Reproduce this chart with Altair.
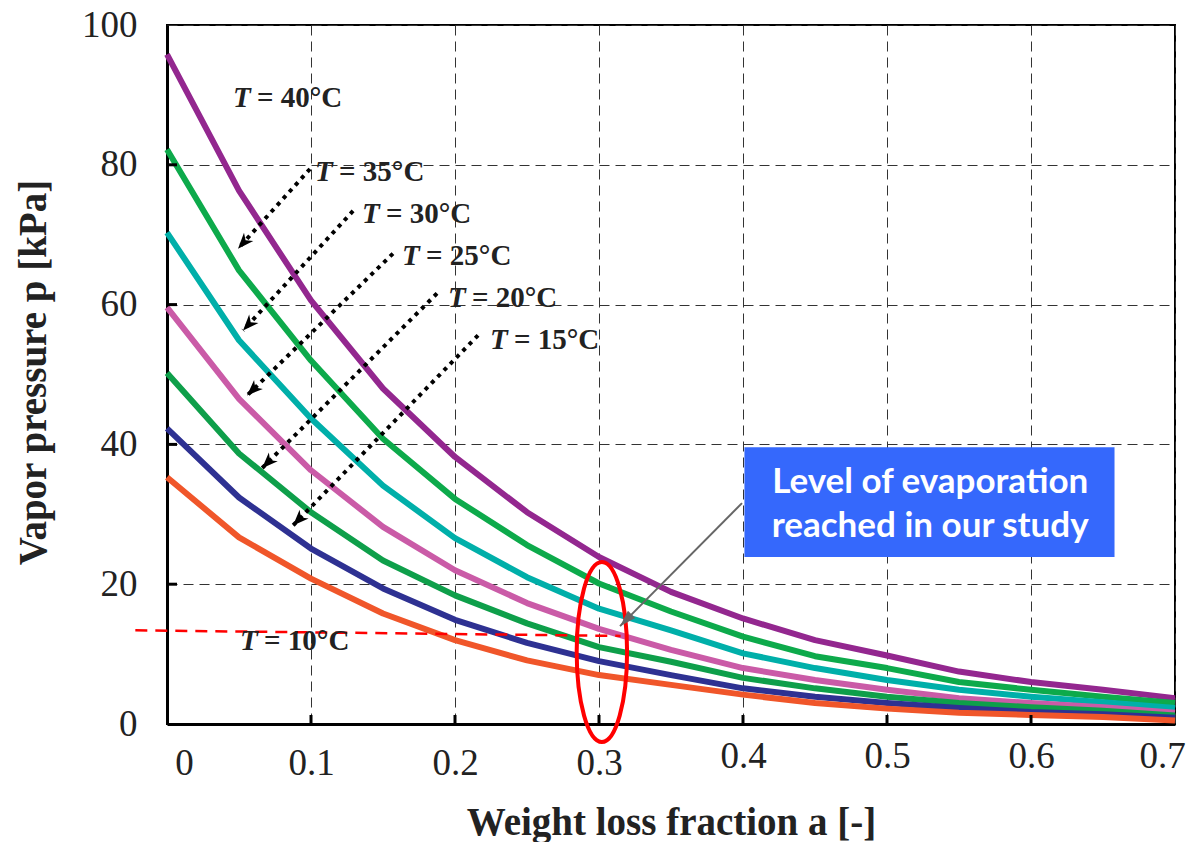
import math
import altair as alt
import pandas as pd

# ---------------- data ----------------
a_vals = [0, 0.05, 0.1, 0.15, 0.2, 0.25, 0.3, 0.35, 0.4, 0.45, 0.5, 0.55, 0.6, 0.65, 0.7]
p_40 = [95.8, 76.3, 60.6, 48.0, 38.2, 30.3, 23.9, 18.9, 15.1, 12.0, 9.8, 7.5, 6.0, 4.9, 3.7]
p_35 = [82.2, 64.9, 52.0, 40.8, 32.2, 25.6, 20.1, 16.1, 12.5, 9.7, 8.0, 6.0, 4.9, 3.9, 3.0]
p_30 = [70.3, 54.9, 43.7, 34.1, 26.6, 21.0, 16.5, 13.4, 10.1, 8.0, 6.3, 4.9, 3.9, 3.1, 2.3]
p_25 = [59.6, 46.5, 36.3, 28.2, 22.0, 17.3, 13.6, 10.6, 8.0, 6.3, 4.9, 3.7, 3.0, 2.4, 1.6]
p_20 = [50.2, 38.7, 30.3, 23.4, 18.4, 14.4, 11.0, 8.9, 6.6, 5.1, 3.9, 3.0, 2.4, 1.9, 1.2]
p_15 = [42.3, 32.4, 25.1, 19.4, 14.9, 11.6, 9.0, 7.0, 5.1, 3.9, 3.0, 2.3, 1.7, 1.4, 0.9]
p_10 = [35.3, 26.7, 20.8, 15.8, 12.0, 9.1, 7.0, 5.6, 4.2, 3.0, 2.2, 1.6, 1.3, 1.0, 0.5]

series_names = ["40", "35", "30", "25", "20", "15", "10"]
series_vals = [p_40, p_35, p_30, p_25, p_20, p_15, p_10]
series_colors = ["#93278F", "#0DAA4B", "#00AFA9", "#CA5BA7", "#0E9F4A", "#2E3192", "#F0562A"]

x_ticks = [0, 0.1, 0.2, 0.3, 0.4, 0.5, 0.6, 0.7]
y_ticks = [0, 20, 40, 60, 80, 100]

# temperature labels
lbl_rest = ["= 40°C", "= 35°C", "= 30°C", "= 25°C", "= 20°C", "= 15°C", "= 10°C"]
lbl_a = [0.0458, 0.1028, 0.1354, 0.1632, 0.1951, 0.2243, 0.0507]
lbl_p = [89.6, 78.9, 73.0, 66.9, 60.9, 54.9, 11.9]

# dotted leader arrows (35, 30, 25, 20, 15 °C)
arr_a1 = [0.0993, 0.1292, 0.1569, 0.1875, 0.2160]
arr_p1 = [79.4, 73.4, 67.3, 61.6, 55.6]
arr_a2 = [0.0493, 0.0528, 0.0556, 0.0660, 0.0875]
arr_p2 = [68.0, 56.3, 47.0, 36.6, 28.4]

# red dashed level line
red_a = [-0.022, 0.315]
red_p = [13.4, 12.6]

# red ellipse centre
ell_a = [0.302]
ell_p = [10.3]

# grey arrow from the callout
grey_a = [0.3993, 0.3146]
grey_p = [31.6, 14.0]

# blue callout box
box_a = [0.401, 0.658]
box_p = [39.6, 23.9]
box_text = ["Level of evaporation", "reached in our study"]
box_text_a = [0.530, 0.530]
box_text_p = [34.6, 28.3]

# ---------------- layout constants ----------------
W, H = 1008, 699
PX_A = W / 0.7
PX_P = H / 100.0
SERIF = "Liberation Serif"

rows = []
for name, vals in zip(series_names, series_vals):
    for a, p in zip(a_vals, vals):
        rows.append({"a": a, "p": p, "T": name})
curves = pd.DataFrame(rows)

xs = alt.Scale(domain=[0, 0.7], nice=False, zero=False)
ys = alt.Scale(domain=[0, 100], nice=False)

x_axis = alt.Axis(
    values=x_ticks, format="~g", grid=True, gridDash=[10, 6], gridColor="#333333",
    gridWidth=1, domain=True, domainColor="black", domainWidth=3, ticks=False,
    labelFont=SERIF, labelFontSize=37, labelColor="#222222", labelOverlap=False,
    labelBound=False, labelFlush=False,
    labelPadding={"condition": {"test": "datum.value > 0.35", "value": 14}, "value": 21},
    labelOffset={"condition": [{"test": "datum.value == 0", "value": 17},
                               {"test": "datum.value > 0.65", "value": -13}],
                 "value": 0},
    title="Weight loss fraction a [-]", titleFont=SERIF, titleFontSize=39,
    titleFontWeight="bold", titleColor="#222222", titleY=98, titleBaseline="middle",
)
y_axis = alt.Axis(
    values=y_ticks, grid=True, gridDash=[10, 6], gridColor="#333333", gridWidth=1,
    domain=True, domainColor="black", domainWidth=3, ticks=False,
    labelFont=SERIF, labelFontSize=37, labelColor="#222222", labelPadding=30,
    labelOverlap=False,
    title="Vapor pressure p [kPa]", titleFont=SERIF, titleFontSize=39,
    titleFontWeight="bold", titleColor="#222222", titleAngle=270,
    titleX=-134, titleY=347, titleBaseline="middle", titleAlign="center",
)


def X(f, **kw):
    return alt.X(f, type="quantitative", scale=xs, axis=x_axis, **kw)


def Y(f, **kw):
    return alt.Y(f, type="quantitative", scale=ys, axis=y_axis, **kw)


lines = alt.Chart(curves).mark_line(strokeWidth=6, strokeJoin="round").encode(
    x=X("a"),
    y=Y("p"),
    color=alt.Color("T:N", scale=alt.Scale(domain=series_names, range=series_colors), legend=None),
    order=alt.Order("a:Q"),
)

# inward tick marks
bt = pd.DataFrame({"a": x_ticks[1:-1]})
bottom_ticks = alt.Chart(bt).mark_rule(color="black", strokeWidth=3).encode(
    x=X("a"), y=alt.value(H), y2=alt.value(H - 9))
lt = pd.DataFrame({"p": y_ticks[1:-1]})
left_ticks = alt.Chart(lt).mark_rule(color="black", strokeWidth=3).encode(
    y=Y("p"), x=alt.value(0), x2=alt.value(10))

# red dashed line
red_df = pd.DataFrame({"a": [red_a[0]], "a2": [red_a[1]], "p": [red_p[0]], "p2": [red_p[1]]})
red_line = alt.Chart(red_df).mark_rule(color="#FF0000", strokeWidth=2.5, strokeDash=[12, 8], clip=False).encode(
    x=X("a"), x2="a2", y=Y("p"), y2="p2")

# temperature labels
lab_df = pd.DataFrame({"a": lbl_a, "p": lbl_p, "rest": lbl_rest})
lab_T = alt.Chart(lab_df).mark_text(
    text="T", font=SERIF, fontSize=29, fontWeight="bold", fontStyle="italic",
    align="left", baseline="middle", color="#222222").encode(x=X("a"), y=Y("p"))
lab_rest = alt.Chart(lab_df).mark_text(
    font=SERIF, fontSize=29, fontWeight="bold", align="left", baseline="middle",
    dx=24, color="#222222").encode(x=X("a"), y=Y("p"), text="rest:N")

# dotted arrows
arr_df = pd.DataFrame({"a": arr_a1, "p": arr_p1, "a2": arr_a2, "p2": arr_p2})
arr_df["ang"] = [
    (math.degrees(math.atan2((a2 - a1) * PX_A, (p2 - p1) * PX_P))) % 360
    for a1, p1, a2, p2 in zip(arr_a1, arr_p1, arr_a2, arr_p2)
]
dots = alt.Chart(arr_df).mark_rule(color="black", strokeWidth=4, strokeDash=[4, 5]).encode(
    x=X("a"), y=Y("p"), x2="a2", y2="p2")
HEAD = "M0,0L0.75,1.9L0,1.35L-0.75,1.9Z"
heads = alt.Chart(arr_df).mark_point(shape=HEAD, filled=True, color="black", size=280, opacity=1).encode(
    x=X("a2"), y=Y("p2"), angle=alt.Angle("ang:Q", scale=None))

# red ellipse
ell_df = pd.DataFrame({"a": ell_a, "p": ell_p})
ELLIPSE = "M-0.28,0A0.28,1,0,1,0,0.28,0A0.28,1,0,1,0,-0.28,0Z"
ellipse = alt.Chart(ell_df).mark_point(shape=ELLIPSE, filled=False, color="#FF0000", strokeWidth=4,
                                       size=32400, opacity=1, clip=False).encode(x=X("a"), y=Y("p"))

# grey arrow
g_df = pd.DataFrame({"a": [grey_a[0]], "p": [grey_p[0]], "a2": [grey_a[1]], "p2": [grey_p[1]]})
g_df["ang"] = [(math.degrees(math.atan2((grey_a[1] - grey_a[0]) * PX_A,
                                         (grey_p[1] - grey_p[0]) * PX_P))) % 360]
grey_line = alt.Chart(g_df).mark_rule(color="#666666", strokeWidth=2).encode(
    x=X("a"), y=Y("p"), x2="a2", y2="p2")
GHEAD = "M0,0L0.6,1.9L-0.6,1.9Z"
grey_head = alt.Chart(g_df).mark_point(shape=GHEAD, filled=True, color="#666666", size=300, opacity=1).encode(
    x=X("a2"), y=Y("p2"), angle=alt.Angle("ang:Q", scale=None))

# blue callout
box_df = pd.DataFrame({"a": [box_a[0]], "a2": [box_a[1]], "p": [box_p[0]], "p2": [box_p[1]]})
box = alt.Chart(box_df).mark_rect(color="#3568FC").encode(x=X("a"), x2="a2", y=Y("p"), y2="p2")
bt_df = pd.DataFrame({"a": box_text_a, "p": box_text_p, "t": box_text})
box_txt = alt.Chart(bt_df).mark_text(font="Lato", fontSize=35, fontWeight="bold", color="white",
                                     align="center", baseline="middle").encode(
    x=X("a"), y=Y("p"), text="t:N")

chart = alt.layer(
    lines, red_line, ellipse, bottom_ticks, left_ticks, dots, heads, lab_T, lab_rest,
    grey_line, grey_head, box, box_txt,
).properties(
    width=W, height=H, autosize="none", background="white",
    padding={"left": 167, "top": 25, "right": 13, "bottom": 118},
).configure_view(stroke="black", strokeWidth=2)

chart.save("out.html", embed_options={"renderer": "svg", "actions": False})
